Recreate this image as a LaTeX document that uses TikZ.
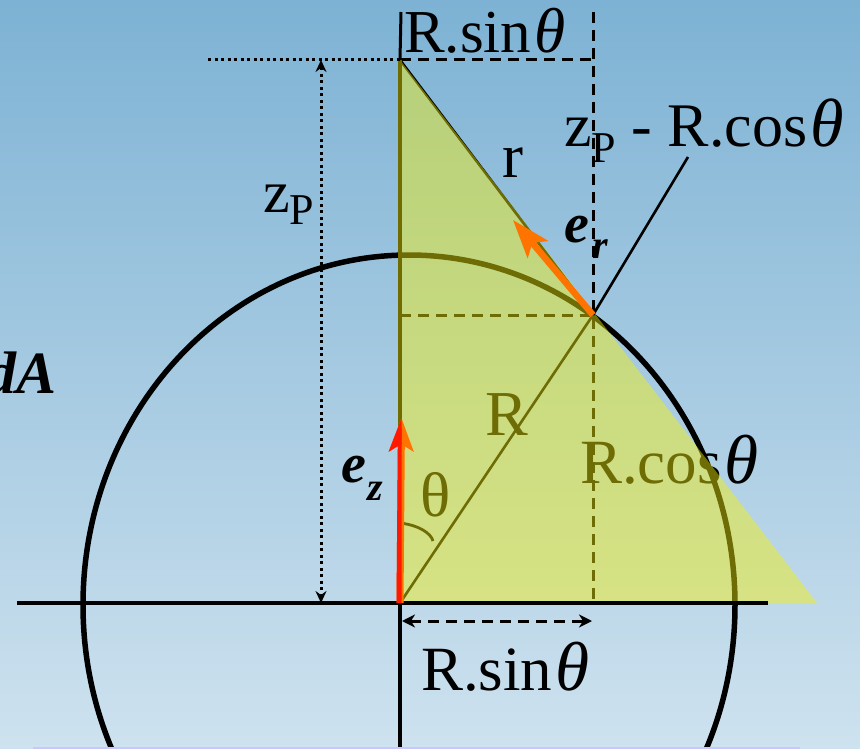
\documentclass[tikz,border=0pt]{standalone}
\usepackage{fontspec}
\setmainfont{Liberation Serif}
\usetikzlibrary{arrows.meta}
\definecolor{bgtop}{RGB}{125,178,212}
\definecolor{bgbot}{RGB}{206,226,239}
\definecolor{fillc}{RGB}{245,240,10}
\definecolor{olivec}{RGB}{112,108,0}
\definecolor{orangec}{RGB}{255,115,0}
\definecolor{redc}{RGB}{255,25,0}
\definecolor{lav}{RGB}{200,200,255}
\tikzset{
  lbl/.style={inner sep=0pt, anchor=base west, font=\fontsize{63}{63}\selectfont},
  vecl/.style={inner sep=0pt, anchor=base west, font=\fontsize{56}{56}\selectfont\bfseries\itshape},
  vecsub/.style={inner sep=0pt, anchor=base west, font=\fontsize{40}{40}\selectfont\bfseries\itshape},
  dashln/.style={line width=3pt, dash pattern=on 11pt off 7pt},
  dotln/.style={line width=3pt, dash pattern=on 3pt off 3.5pt},
  thinln/.style={line width=2.6pt},
  axisln/.style={line width=3.5pt},
}
\newcommand{\subP}[1]{\raisebox{#1}{\fontsize{44}{44}\selectfont P}}
\newcommand{\thit}{\hspace{3pt}\scalebox{1.1}{\textit{θ}}}
\newcommand{\thitsm}{\hspace{3pt}\scalebox{1.04}{\textit{θ}}}
\begin{document}
\begin{tikzpicture}[x=1pt,y=-1pt]
\useasboundingbox (0,0) rectangle (860,749);
\clip (0,0) rectangle (860,749);
\shade[top color=bgtop, bottom color=bgbot] (0,0) rectangle (860,749);

% key points
\coordinate (O) at (400,603);
\coordinate (A) at (400,60);
\coordinate (B) at (817,603);
\coordinate (P) at (593,315);
\coordinate (Pz) at (400,315);
\coordinate (Ttop) at (593,60);
\coordinate (Vtop) at (593,12);
\coordinate (Vbot) at (593,603);
\coordinate (Ltop) at (401,12);
\coordinate (Dl) at (208,60);
\coordinate (Zt) at (321,60);
\coordinate (Zb) at (321,603);
\coordinate (AxL) at (17,603);
\coordinate (AxR) at (768,603);
\coordinate (Yb) at (400,749);
\coordinate (S1) at (402,621);
\coordinate (S2) at (592,621);
\coordinate (lead) at (688,157);
\coordinate (EzTip) at (401.5,418);
\coordinate (ErTip) at (513,220);
\coordinate (Th1) at (400,523);
\coordinate (Th2) at (433,541);

% circle (under the fill)
\draw[line width=5.5pt] (409,605) ellipse [x radius=326pt, y radius=350pt];

% lines under the fill
\draw[thinln] (O) -- (P);
\draw[thinln] (A) -- (P);
\draw[dashln] (Pz) -- (P);
\draw[dashln] (A) -- (Ttop);
\draw[dashln] (Vtop) -- (Vbot);
\draw[line width=2.8pt] (Th1) .. controls (418,525) and (431,533) .. (Th2);

% labels under the fill
\node[lbl, font=\fontsize{64}{64}\selectfont] (Rlab) at (485,435) {R};
\node[lbl] (thlab) at (420,516) {θ};
\node[lbl] (rcos) at (580,483) {R.cos\thit};

% triangle fill
\fill[fillc, fill opacity=0.45] (A) -- (B) -- (O) -- cycle;

% left edge of triangle
\draw[olivec, line width=3.2pt] (A) -- (O);

% axes and other lines
\draw[axisln] (AxL) -- (AxR);
\draw[axisln] (O) -- (Yb);
\draw[line width=3pt] (Ltop) -- (A);
\draw[dotln] (Dl) -- (A);
\draw[dotln, {Stealth[length=12pt,width=11pt,inset=4pt]}-{Stealth[length=12pt,width=11pt,inset=4pt]}] (Zt) -- (Zb);
\draw[dashln, {Stealth[length=13pt,width=13pt,inset=4pt]}-{Stealth[length=13pt,width=13pt,inset=4pt]}] (S1) -- (S2);
\draw[line width=2.6pt] (lead) -- (P);
\draw[lav, line width=2pt] (33,748) -- (800,748);

% e_z arrow (red left half, orange right half)
\draw[orangec, line width=7pt, -{Stealth[length=33pt,width=24pt,inset=7pt]}] (O) -- (EzTip);
\begin{scope}
  \clip (370,400) rectangle (401.5,610);
  \draw[redc, line width=7pt, -{Stealth[length=33pt,width=24pt,inset=7pt]}] (O) -- (EzTip);
\end{scope}

% e_r arrow
\draw[orangec, line width=6.5pt, -{Stealth[length=38pt,width=26pt,inset=8pt]}] (P) -- (ErTip);

% labels
\node[lbl, font=\fontsize{61}{61}\selectfont] (topsin) at (404,53) {R.sin\thitsm};
\node[lbl] (botsin) at (421,690) {R.sin\thit};
\node[lbl, font=\fontsize{62}{62}\selectfont] (zpr) at (564,147) {z\subP{-16pt} - R.cos\thit};
\node[lbl] (rlab) at (502,178) {r};
\node[lbl, font=\fontsize{60}{60}\selectfont] (zpl) at (263,212) {z\subP{-13pt}};
\node[vecl, anchor=base east, font=\fontsize{60}{60}\selectfont\bfseries\itshape] (dA) at (57,393) {dA};
\node[vecl] (ez) at (341,482) {e};
\node[vecsub] (ezs) at (367,500) {z};
\node[vecl] (er) at (564,242) {e};
\node[vecsub] (ers) at (592,258) {r};
\end{tikzpicture}
\end{document}
